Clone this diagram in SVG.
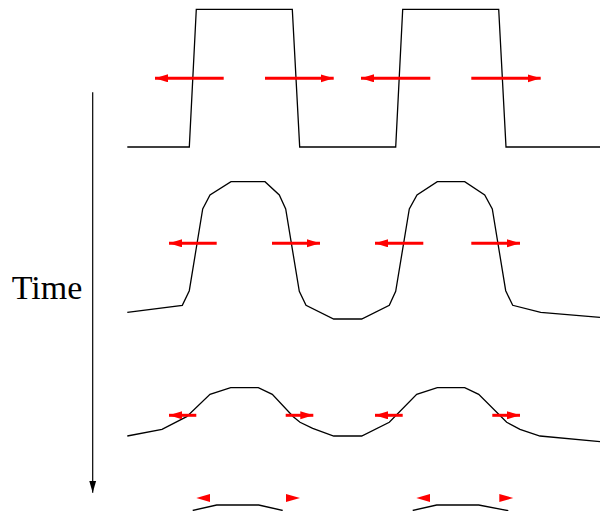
<svg xmlns="http://www.w3.org/2000/svg" width="600" height="511" viewBox="0 0 600 511">
<style>
.w{fill:none;stroke:#000;stroke-width:1.3;stroke-linejoin:miter}
.r{stroke:#ff0000;stroke-width:3;fill:none}
.rh{fill:#ff0000;stroke:none}
.t{font-family:"Liberation Serif",serif;font-size:34px;fill:#000}
</style>
<defs>
<marker id="ra" markerUnits="userSpaceOnUse" markerWidth="14" markerHeight="10" refX="13" refY="4" orient="auto">
<path d="M0,0 L13,4 L0,8 Z" fill="#ff0000"/>
</marker>
<marker id="ka" markerUnits="userSpaceOnUse" markerWidth="8" markerHeight="14" refX="3.5" refY="12" orient="0">
<path d="M0,0 L7,0 L3.5,12 Z" fill="#000"/>
</marker>
</defs>
<g id="wave1">
<polyline class="w" points="127.3,147 189.3,147 196.3,9.3 292.3,9.3 299.7,147 395.7,147 402.7,9.3 498.7,9.3 506,147 600,147"/>
</g>
<g id="wave2">
<polyline class="w" points="127.3,312.3 182.3,305.3 189.3,290.7 202.7,209 210,195 231,181.7 265,181.7 279.3,195 285.7,209 299.3,291.3 306,305.3 333.7,319 361.7,319 389.3,305.3 395.7,291.3 409.3,209 417,195 437.3,181.7 464.7,181.7 484.7,195 492.3,209 505.7,290.7 512.7,305.3 540.7,312.3 600,317.3"/>
</g>
<g id="wave3">
<polyline class="w" points="127.3,436 162,429.3 186.7,416.7 210,394.3 230.7,387.7 258.3,387.7 272.3,394.3 293.3,416.7 300,422.3 312.7,428.3 333.7,436 361.7,436 389.3,422.3 416.7,394.3 437.3,387.7 464.7,387.7 478.7,394.3 506.7,422.3 520,429.3 540,436 600,441.7"/>
</g>
<g id="wave4">
<polyline class="w" points="192.7,510.5 216.7,505 258.7,505 282.7,510.5"/>
<polyline class="w" points="412.7,510.5 436.7,505 478.7,505 508.3,510.7"/>
</g>
<g id="time-label">
<text class="t" x="47" y="299" text-anchor="middle">Time</text>
</g>
<g id="connectors">
<line x1="92.7" y1="92.3" x2="92.7" y2="492.7" stroke="#000" stroke-width="1.2" marker-end="url(#ka)"/>
<line class="r" x1="223.7" y1="78.3" x2="155" y2="78.3" marker-end="url(#ra)"/>
<line class="r" x1="265" y1="78.3" x2="333.7" y2="78.3" marker-end="url(#ra)"/>
<line class="r" x1="430.3" y1="78.3" x2="361" y2="78.3" marker-end="url(#ra)"/>
<line class="r" x1="471.3" y1="78.3" x2="540.7" y2="78.3" marker-end="url(#ra)"/>
<line class="r" x1="216.7" y1="243.3" x2="169" y2="243.3" marker-end="url(#ra)"/>
<line class="r" x1="272" y1="243.3" x2="320" y2="243.3" marker-end="url(#ra)"/>
<line class="r" x1="423.3" y1="243.3" x2="375" y2="243.3" marker-end="url(#ra)"/>
<line class="r" x1="471.3" y1="243.3" x2="520" y2="243.3" marker-end="url(#ra)"/>
<line class="r" x1="196.3" y1="415.3" x2="169" y2="415.3" marker-end="url(#ra)"/>
<line class="r" x1="285.7" y1="415.3" x2="313.3" y2="415.3" marker-end="url(#ra)"/>
<line class="r" x1="402.7" y1="415.3" x2="375" y2="415.3" marker-end="url(#ra)"/>
<line class="r" x1="492.3" y1="415.3" x2="520" y2="415.3" marker-end="url(#ra)"/>
<polygon class="rh" points="196.3,498 210,494 210,502"/>
<polygon class="rh" points="300,498 286,494 286,502"/>
<polygon class="rh" points="416.3,498 430,494 430,502"/>
<polygon class="rh" points="513.3,498 499.3,494 499.3,502"/>
</g>
</svg>
